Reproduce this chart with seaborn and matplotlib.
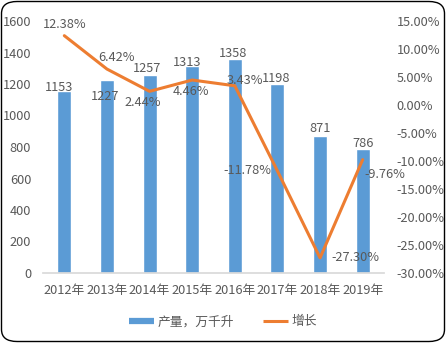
import numpy as np
import pandas as pd
import matplotlib
matplotlib.use("Agg")
import matplotlib.pyplot as plt
from matplotlib.patches import FancyBboxPatch
from matplotlib.lines import Line2D
import seaborn as sns

years = ["2012年", "2013年", "2014年", "2015年", "2016年", "2017年", "2018年", "2019年"]
output = [1153, 1227, 1257, 1313, 1358, 1198, 871, 786]
growth = [12.38, 6.42, 2.44, 4.46, 3.43, -11.78, -27.30, -9.76]
left_ticks = [0, 200, 400, 600, 800, 1000, 1200, 1400, 1600]
right_ticks = [-30, -25, -20, -15, -10, -5, 0, 5, 10, 15]

sns.set_theme(style="white")
plt.rcParams["font.family"] = ["Noto Sans CJK SC", "DejaVu Sans"]

BLUE = "#5B9BD5"
ORANGE = "#ED7D31"
TXT = "#595959"
FS = 9.2

fig = plt.figure(figsize=(4.46, 3.43), dpi=100)
ax = fig.add_axes([43 / 446, 70 / 343, 341 / 446, 252 / 343])

df = pd.DataFrame({"year": years, "output": output, "growth": growth})
sns.barplot(data=df, x="year", y="output", color=BLUE, width=0.33,
            saturation=1, ax=ax)
ax.set_ylim(0, 1600)
ax.set_yticks(left_ticks)
ax.set_xlim(-0.5, len(years) - 0.5)
ax.set_xlabel("")
ax.set_ylabel("")
for s in ["top", "left", "right"]:
    ax.spines[s].set_visible(False)
ax.spines["bottom"].set_color("#D9D9D9")
ax.tick_params(axis="both", length=0, colors=TXT, labelsize=FS)
ax.tick_params(axis="y", pad=8.5)
ax.tick_params(axis="x", pad=8)

# bar value labels (offsets in points)
bar_offsets = [(-4, 3), (-1, -12), (-2, 5), (-4, 3), (-1, 4), (-1, 4), (0, 5), (0, 4)]
for i, v in enumerate(output):
    ax.annotate(f"{v}", (i, v), xytext=bar_offsets[i], textcoords="offset points",
                ha="center", va="center", color=TXT, fontsize=FS)

ax2 = ax.twinx()
sns.lineplot(x=np.arange(len(growth)), y=growth, color=ORANGE, linewidth=2.2,
             ax=ax2)
ax2.set_ylim(-30, 15)
ax2.set_yticks(right_ticks)
ax2.set_yticklabels([f"{t:.2f}%" for t in right_ticks])
for s in ["top", "left", "right", "bottom"]:
    ax2.spines[s].set_visible(False)
ax2.tick_params(axis="y", length=0, colors=TXT, labelsize=FS, pad=9)

# growth labels, offset (points) per point
offsets = [(0, 8), (7, 8), (-5, -8), (-1, -8), (7, 4), (-4, 0), (8, 0), (1, -11)]
aligns = [("center", "center"), ("center", "center"), ("center", "center"),
          ("center", "center"), ("center", "center"), ("right", "center"),
          ("left", "center"), ("left", "center")]
for i, g in enumerate(growth):
    ha, va = aligns[i]
    ax2.annotate(f"{g:.2f}%", (i, g), xytext=offsets[i], textcoords="offset points",
                 ha=ha, va=va, color=TXT, fontsize=FS)

handles = [Line2D([0], [0], color=BLUE, linewidth=4.5, solid_capstyle="butt"),
           Line2D([0], [0], color=ORANGE, linewidth=2.2, solid_capstyle="butt")]
fig.legend(handles, ["产量，万千升", "增长"], loc="center",
           bbox_to_anchor=(0.5, 21 / 343), ncol=2, frameon=False,
           fontsize=FS, labelcolor=TXT, handlelength=2.0, columnspacing=2.2,
           handletextpad=0.3)

border = FancyBboxPatch((1.5 / 446, 1.5 / 343), 443 / 446, 340 / 343,
                        boxstyle="round,pad=0,rounding_size=0.035",
                        transform=fig.transFigure, facecolor="none",
                        edgecolor="black", linewidth=1.0)
fig.patches.append(border)

fig.savefig("out.png", dpi=100)
